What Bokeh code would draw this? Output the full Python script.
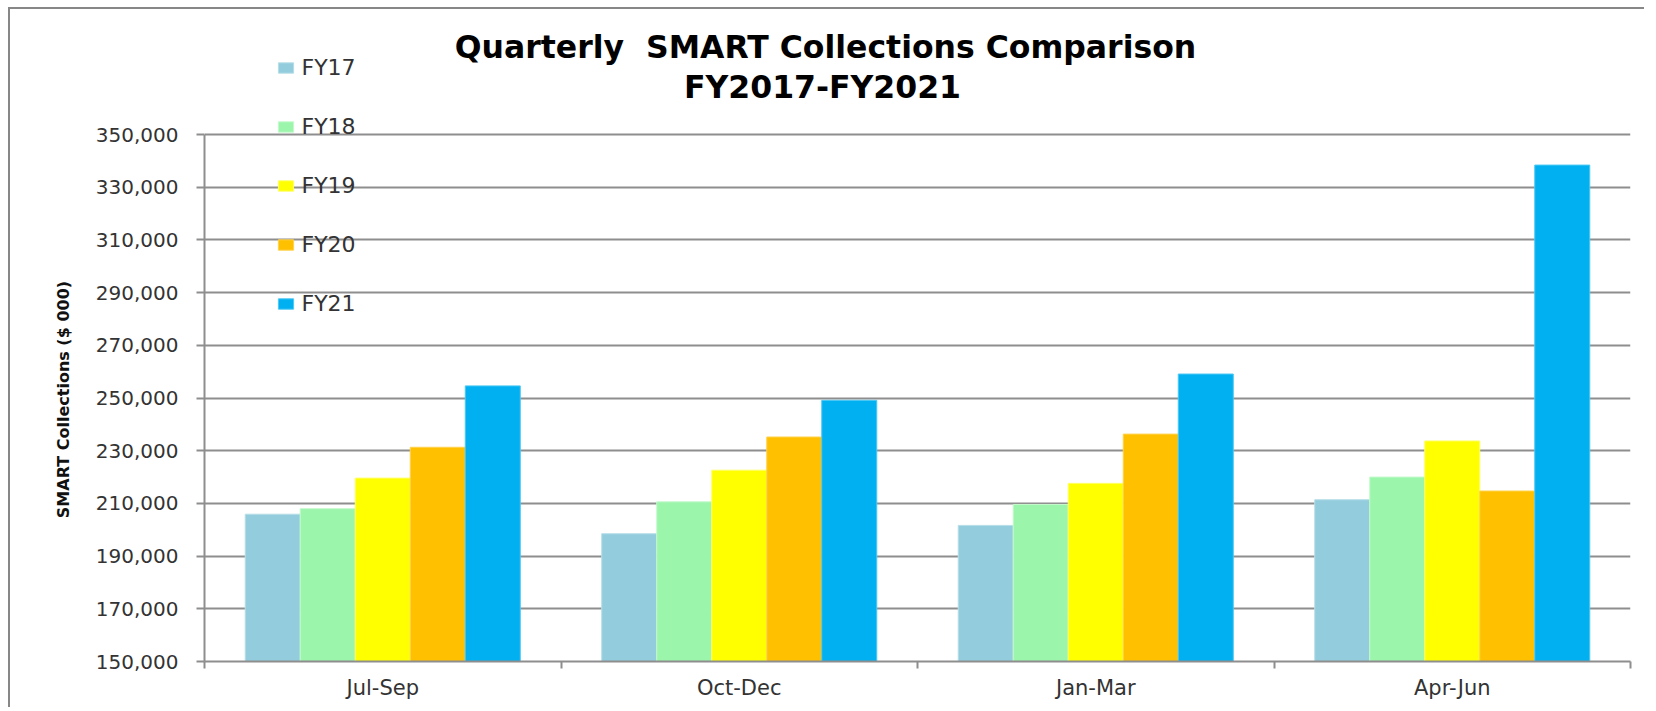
from bokeh.plotting import figure
from bokeh.models import (ColumnDataSource, Range1d, FixedTicker, NumeralTickFormatter,
                          Legend, LegendItem, Label)
from bokeh.transform import dodge
from bokeh.embed import file_html
from bokeh.resources import INLINE

# ---- data ----
quarters = ["Jul-Sep", "Oct-Dec", "Jan-Mar", "Apr-Jun"]
series_names = ["FY17", "FY18", "FY19", "FY20", "FY21"]
fy17 = [205900, 198500, 201650, 211400]
fy18 = [208000, 210600, 209600, 220000]
fy19 = [219600, 222600, 217600, 233700]
fy20 = [231300, 235200, 236300, 214700]
fy21 = [254600, 249100, 259100, 338400]
y_ticks = [150000, 170000, 190000, 210000, 230000, 250000, 270000, 290000, 310000, 330000, 350000]
y_min, y_max = 150000, 350000

colors = ["#93CDDD", "#9BF5AB", "#FFFF00", "#FFC000", "#00B0F0"]
edges = ["#B7DEE8", "#C4F9CC", "#FFFF66", "#FFD24D", "#4DC8F4"]

centers = [i + 0.5 for i in range(len(quarters))]
bounds = [float(i) for i in range(len(quarters) + 1)]
src = ColumnDataSource(dict(x=centers, FY17=fy17, FY18=fy18, FY19=fy19, FY20=fy20, FY21=fy21))

# layout (canvas pixels)
W, H = 1636, 700
FL, FR = 194, 1620          # frame left / right
TOP_VAL_Y, FB = 125, 652    # pixel of y_max gridline, frame bottom
# frame spans from canvas top; extend range so y_max lands at TOP_VAL_Y
y_end = y_max + TOP_VAL_Y * (y_max - y_min) / (FB - TOP_VAL_Y)

p = figure(width=W, height=H, output_backend="svg", toolbar_location=None,
           x_range=Range1d(0, len(quarters)), y_range=Range1d(y_min, y_end),
           min_border_left=FL, min_border_right=W - FR, min_border_top=0,
           min_border_bottom=H - FB, title=None)
p.styles = {"margin-left": "8px", "margin-top": "7px",
            "border-left": "2px solid #878787", "border-top": "2px solid #878787"}
p.outline_line_color = None
p.background_fill_color = "white"
p.border_fill_color = "white"

bar_w = 0.1543
renderers = []
for k, (name, c, e) in enumerate(zip(series_names, colors, edges)):
    r = p.vbar(x=dodge("x", (k - 2) * bar_w, range=p.x_range), top=name, bottom=y_min,
               width=bar_w, source=src, fill_color=c, line_color=e, line_width=1)
    renderers.append(r)

# grid
p.xgrid.visible = False
p.ygrid.ticker = FixedTicker(ticks=y_ticks)
p.ygrid.grid_line_color = "#8E8E8E"
p.ygrid.grid_line_width = 2

# y axis (label padded on its upper end so it centres on the value span)
ya = p.yaxis[0]
ya.bounds = (y_min, y_max)
ya.ticker = FixedTicker(ticks=y_ticks)
ya.formatter = NumeralTickFormatter(format="0,0")
ya.axis_line_color = "#8E8E8E"
ya.axis_line_width = 2
ya.major_tick_line_color = "#8E8E8E"
ya.major_tick_line_width = 2
ya.major_tick_out = 8
ya.major_tick_in = 0
ya.minor_tick_line_color = None
ya.major_label_standoff = 18
ya.major_label_text_font = "DejaVu Sans"
ya.major_label_text_font_size = "20px"
ya.major_label_text_color = "#333333"
ya.axis_label = "SMART Collections ($ 000)" + "\u00a0" * 23
ya.axis_label_text_font = "DejaVu Sans"
ya.axis_label_text_font_style = "bold"
ya.axis_label_text_font_size = "16px"
ya.axis_label_text_color = "#111111"
ya.axis_label_standoff = 20

# x axis
xa = p.xaxis[0]
xa.ticker = FixedTicker(ticks=centers, minor_ticks=bounds)
xa.major_label_overrides = {c: q for c, q in zip(centers, quarters)}
xa.axis_line_color = "#8E8E8E"
xa.axis_line_width = 2
xa.major_tick_line_color = None
xa.major_tick_out = 0
xa.major_tick_in = 0
xa.minor_tick_line_color = "#8E8E8E"
xa.minor_tick_line_width = 2
xa.minor_tick_out = 7
xa.minor_tick_in = 0
xa.major_label_standoff = 7
xa.major_label_text_font = "DejaVu Sans"
xa.major_label_text_font_size = "21px"
xa.major_label_text_color = "#333333"

# legend (inside the frame, which covers the title area)
legend = Legend(items=[LegendItem(label=n, renderers=[r]) for n, r in zip(series_names, renderers)],
                location=(71.5, 344.5), orientation="vertical",
                border_line_color=None, background_fill_alpha=0, padding=0, margin=0,
                spacing=33, label_height=26, glyph_height=13, glyph_width=19,
                label_standoff=7, label_text_font="DejaVu Sans", label_text_font_size="22px",
                label_text_color="#333333")
p.add_layout(legend, "center")

# title
t1 = Label(x=621, y=615, x_units="screen", y_units="screen",
           text="Quarterly\u00a0 SMART Collections Comparison", text_align="center",
           text_baseline="alphabetic", text_font="DejaVu Sans", text_font_style="bold",
           text_font_size="31.5px", text_color="#000000")
t2 = Label(x=618, y=575, x_units="screen", y_units="screen",
           text="FY2017-FY2021", text_align="center",
           text_baseline="alphabetic", text_font="DejaVu Sans", text_font_style="bold",
           text_font_size="31.5px", text_color="#000000")
p.add_layout(t1)
p.add_layout(t2)

open("out.html", "w").write(file_html(p, INLINE))
